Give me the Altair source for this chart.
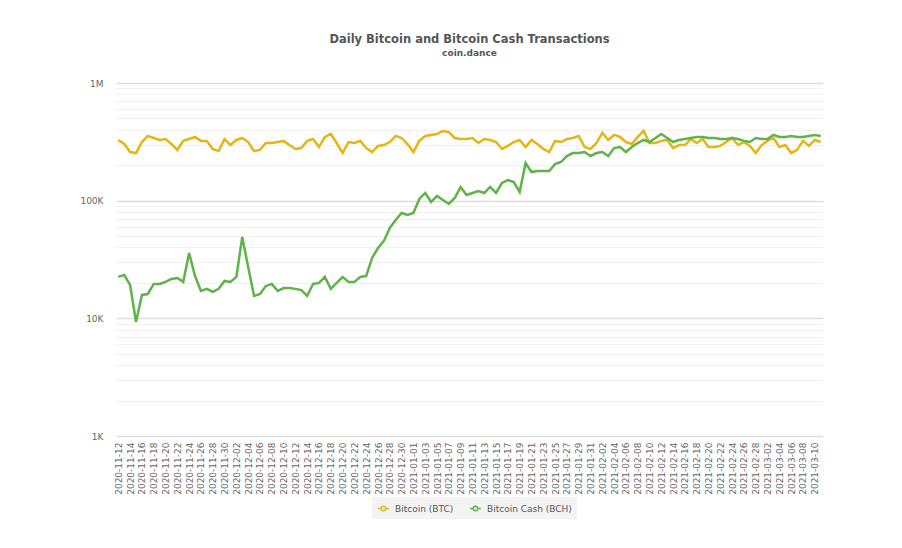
import altair as alt
import pandas as pd

dates = [d.strftime("%Y-%m-%d") for d in pd.date_range("2020-11-12", "2021-03-11")]

btc = [328000, 303000, 259000, 254000, 315000, 355000, 341000, 328000, 334000, 303000,
       270000, 322000, 334000, 348000, 322000, 322000, 275000, 264000, 334000, 297000,
       328000, 341000, 315000, 264000, 270000, 309000, 309000, 315000, 322000, 297000,
       275000, 280000, 322000, 334000, 286000, 348000, 369000, 309000, 254000, 315000,
       309000, 322000, 280000, 259000, 292000, 297000, 315000, 355000, 341000, 303000,
       259000, 322000, 355000, 362000, 369000, 391000, 383000, 341000, 334000, 334000,
       341000, 309000, 334000, 328000, 315000, 275000, 292000, 315000, 328000, 286000,
       328000, 303000, 275000, 259000, 322000, 315000, 334000, 341000, 355000, 286000,
       275000, 309000, 376000, 328000, 362000, 348000, 315000, 303000, 348000, 391000,
       309000, 309000, 322000, 328000, 280000, 297000, 297000, 334000, 309000, 334000,
       286000, 286000, 292000, 315000, 341000, 297000, 315000, 292000, 254000, 297000,
       322000, 341000, 286000, 297000, 254000, 270000, 322000, 292000, 328000, 315000]

bch = [22500, 23400, 19200, 9300, 15800, 16100, 19600, 19600, 20400, 21600,
       22000, 20400, 35900, 22900, 17100, 17800, 16800, 17800, 20800, 20400,
       22500, 49200, 27300, 15500, 16100, 18800, 19600, 17100, 18100, 18100,
       17800, 17400, 15500, 19600, 20000, 22500, 17800, 20000, 22500, 20400,
       20400, 22500, 22900, 32600, 39600, 45500, 58700, 68600, 78600, 75600,
       78600, 103400, 116200, 97500, 109600, 101400, 93800, 105400, 130700, 111800,
       116200, 120900, 116200, 130700, 116200, 141300, 149800, 144100, 118500, 208900,
       175200, 178700, 178700, 178700, 204900, 213000, 239500, 254000, 254000, 259000,
       239500, 254000, 259000, 239500, 280000, 286000, 259000, 286000, 309000, 328000,
       315000, 341000, 369000, 341000, 315000, 328000, 334000, 341000, 348000, 348000,
       341000, 341000, 334000, 334000, 341000, 334000, 322000, 315000, 341000, 334000,
       334000, 362000, 348000, 348000, 355000, 348000, 348000, 355000, 362000, 355000]

series = ["Bitcoin (BTC)", "Bitcoin Cash (BCH)"]
colors = ["#e7b416", "#5fb349"]

x_ticks = dates[::2]
y_ticks = [m * 10 ** e for e in range(3, 6) for m in range(1, 10)] + [1000000]
y_label_expr = ("datum.value == 1000 ? '1K' : datum.value == 10000 ? '10K' : "
                "datum.value == 100000 ? '100K' : datum.value == 1000000 ? '1M' : ''")
major_test = ("datum.value == 1000 || datum.value == 10000 || "
              "datum.value == 100000 || datum.value == 1000000")

df = pd.DataFrame({
    "date": dates + dates,
    "series": [series[0]] * len(dates) + [series[1]] * len(dates),
    "tx": btc + bch,
})

legend_symbol = ("M-1,0L-0.4,0M0.4,0L1,0M0.4,0A0.4,0.4,0,1,1,-0.4,0"
                 "A0.4,0.4,0,1,1,0.4,0")

chart = alt.Chart(df).mark_line(strokeWidth=2.5).encode(
    x=alt.X("date:O", sort=dates,
            scale=alt.Scale(type="point", padding=0.39),
            axis=alt.Axis(values=x_ticks, labelAngle=270, labelFontSize=9,
                          labelColor="#666", labelFont="DejaVu Sans",
                          domain=False, ticks=False, title=None,
                          labelPadding=6, labelOverlap=False)),
    y=alt.Y("tx:Q",
            scale=alt.Scale(type="log", domain=[1000, 1000000]),
            axis=alt.Axis(values=y_ticks, labelExpr=y_label_expr, title=None,
                          domain=False, ticks=False, labelPadding=13,
                          labelFontSize=9, labelColor="#666",
                          labelFont="DejaVu Sans", labelOverlap=False,
                          gridColor={"condition": {"test": major_test, "value": "#dedede"},
                                     "value": "#f1f1f1"},
                          gridWidth={"condition": {"test": major_test, "value": 1.5},
                                     "value": 1})),
    color=alt.Color("series:N", sort=series,
                    scale=alt.Scale(domain=series, range=colors),
                    legend=alt.Legend(orient="none", legendX=256, legendY=414,
                                      direction="horizontal", title=None,
                                      symbolType=legend_symbol, symbolSize=121,
                                      symbolStrokeWidth=1.6, symbolFillColor="white",
                                      labelFontSize=9, labelColor="#555",
                                      labelFont="DejaVu Sans", labelOffset=5,
                                      fillColor="#f4f4f4", padding=5,
                                      columnPadding=12)),
    order=alt.Order("series:N"),
).properties(
    width=707,
    height=353,
    title=alt.TitleParams("Daily Bitcoin and Bitcoin Cash Transactions",
                          subtitle="coin.dance", fontSize=11.5, subtitleFontSize=9,
                          fontWeight="bold", subtitleFontWeight="bold",
                          color="#555", subtitleColor="#555", anchor="middle",
                          font="DejaVu Sans", subtitleFont="DejaVu Sans",
                          offset=21, subtitlePadding=4),
    autosize=alt.AutoSizeParams(type="none"),
    padding={"left": 108, "top": 75, "right": 70, "bottom": 100},
).configure(background="white").configure_view(strokeWidth=0)

chart.save("out.html", embed_options={"renderer": "svg", "actions": False})
